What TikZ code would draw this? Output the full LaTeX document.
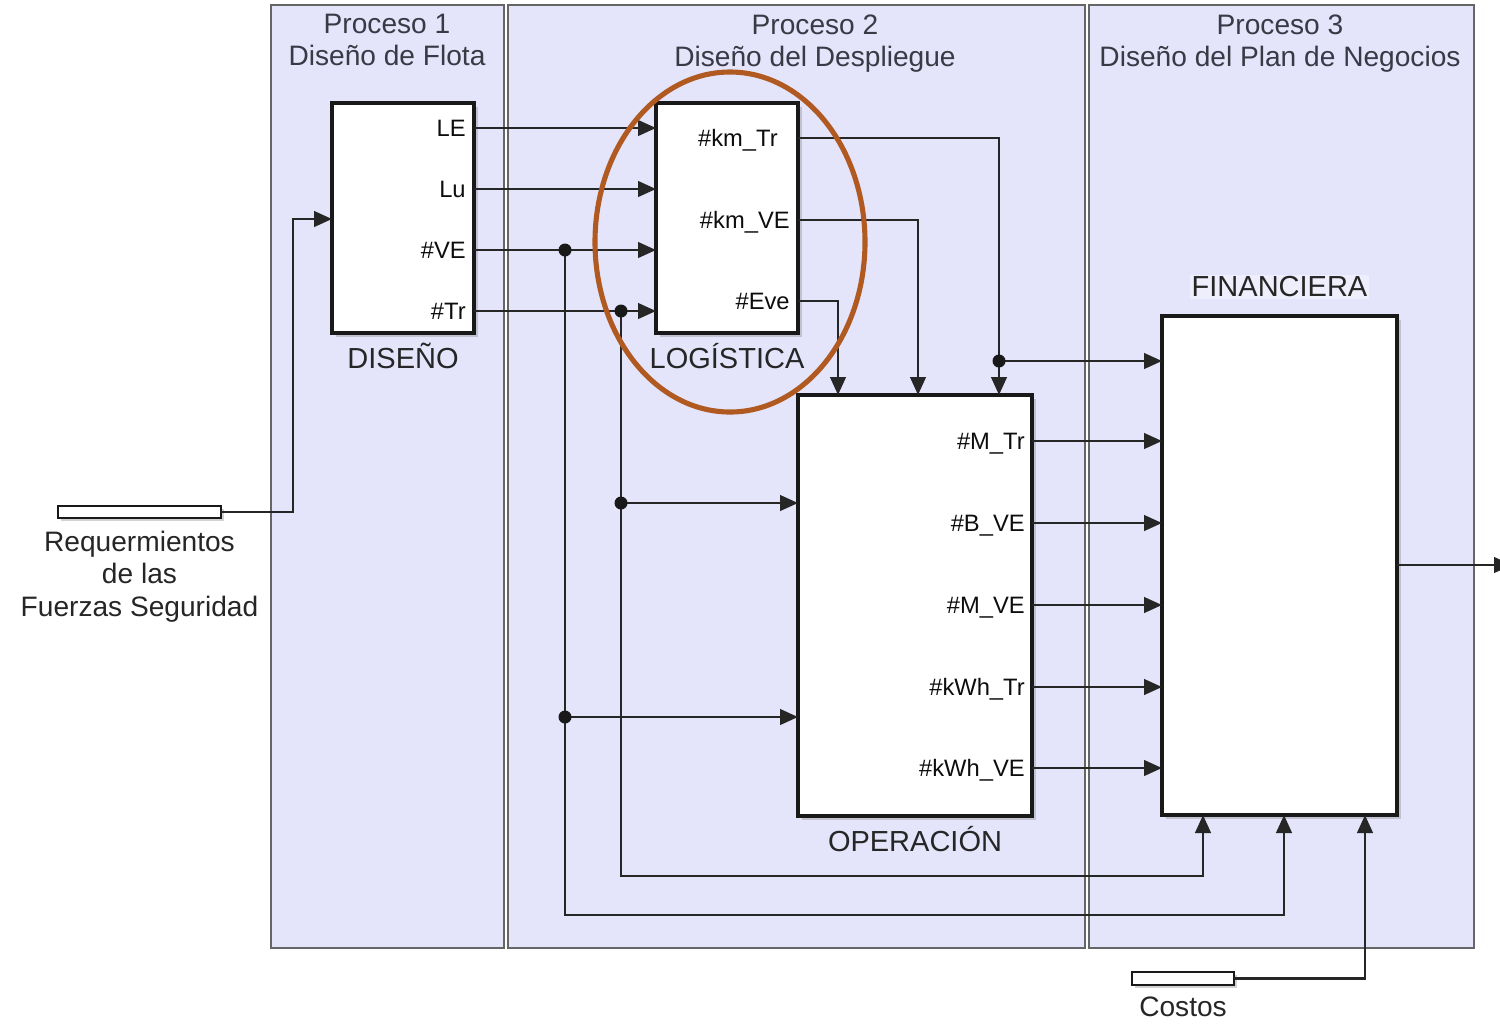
\documentclass[tikz,border=0pt]{standalone}
\usepackage{fontspec}
\setmainfont{Liberation Sans}
\usepackage{tikz}
\usetikzlibrary{positioning, arrows.meta, shadows}
\definecolor{lav}{RGB}{228,228,250}
\definecolor{lavlt}{RGB}{238,238,252}
\definecolor{ringc}{RGB}{176,90,34}
\definecolor{ttl}{RGB}{58,58,70}
\tikzset{
  arr/.style={-{Triangle[length=3.6mm,width=3.1mm]}, line width=1.6pt, draw=black!85},
  panel/.style={fill=lav, draw=black!60, line width=1.6pt, inner sep=0pt, outer sep=0pt},
  blk/.style={fill=white, draw=black!90, line width=1.8pt, inner sep=0pt, outer sep=0pt,
    drop shadow={shadow xshift=0.7mm, shadow yshift=-0.7mm, opacity=0.35}},
  src/.style={fill=white, draw=black!90, line width=1.6pt, inner sep=0pt, outer sep=0pt,
    drop shadow={shadow xshift=0.6mm, shadow yshift=-0.6mm, opacity=0.35}},
  port/.style={font=\fontsize{13.5}{16}\selectfont, inner sep=0pt, text=black!95},
  bname/.style={font=\fontsize{16.5}{19}\selectfont, text=black!85, inner sep=1pt},
  ptitle/.style={font=\fontsize{16}{18.2}\selectfont, text=ttl, align=center},
  ring/.style={draw=ringc, line width=2.9pt}
}
\begin{document}
\begin{tikzpicture}[x=0.2mm, y=-0.2mm]
\fill[white] (0,0) rectangle (1500,1024);
\useasboundingbox (0,0) rectangle (1500,1024);
% ---- process panels ----
\node[panel, minimum width=46.6mm, minimum height=188.6mm] (p1) at (387.5,476.5) {};
\node[panel, minimum width=115.4mm, minimum height=188.6mm] (p2) at (796.5,476.5) {};
\node[panel, minimum width=77mm, minimum height=188.6mm] (p3) at (1281.5,476.5) {};
\node[ptitle] (t1) at (387,40) {Proceso 1\\Diseño de Flota};
\node[ptitle] (t2) at (815,44) {Proceso 2\\Diseño del Despliegue};
\node[ptitle] (t3) at (1280,44) {Proceso 3\\Diseño del Plan de Negocios};
% ---- blocks ----
\node[blk, minimum width=28.4mm, minimum height=46mm] (dis) at (403,218) {};
\node[blk, minimum width=28.4mm, minimum height=46mm] (log) at (727,218) {};
\node[blk, minimum width=46.8mm, minimum height=84.2mm] (ope) at (915,605.5) {};
\node[blk, minimum width=47mm, minimum height=99.8mm] (fin) at (1279.5,565.5) {};
\node[src, minimum width=32.6mm, minimum height=2.4mm] (req) at (139.5,512) {};
\node[src, minimum width=20.4mm, minimum height=2.6mm] (cos) at (1183,978.5) {};
\node[bname, below=1.6mm of dis] (disl) {DISEÑO};
\node[bname, below=1.6mm of log] (logl) {LOGÍSTICA};
\node[bname, below=1.6mm of ope] (opel) {OPERACIÓN};
\node[bname, above=3.4mm of fin, fill=lavlt] (finl) {FINANCIERA};
\node[bname, below=2.2mm of req, align=center, font=\fontsize{16}{18.4}\selectfont] (reql)
  {Requermientos\\de las\\Fuerzas Seguridad};
\node[bname, below=2mm of cos, font=\fontsize{16}{18.4}\selectfont] (cosl) {Costos};
% ---- port labels ----
\foreach \y/\t in {128/LE, 189/Lu, 250/\#VE, 311/\#Tr}{
  \node[port, anchor=base east] at ([xshift=-1.6mm, yshift=-1.7mm]dis.east |- 0,\y) {\t};}
\foreach \y/\x/\t in {138/778/\#km\_Tr, 220/790/\#km\_VE, 301/790/\#Eve}{
  \node[port, anchor=base east] at ([yshift=-1.7mm]\x,\y) {\t};}
\foreach \y/\t in {441/\#M\_Tr, 523/\#B\_VE, 605/\#M\_VE, 687/\#kWh\_Tr, 768/\#kWh\_VE}{
  \node[port, anchor=base east] at ([xshift=-1.4mm, yshift=-1.7mm]ope.east |- 0,\y) {\t};}
% ---- branch points ----
\coordinate (ve) at (565,250);
\coordinate (tr) at (621,311);
\coordinate (ve2) at (565,717);
\coordinate (tr2) at (621,503);
\coordinate (kt) at (999,361);
\coordinate (out) at (1512,565);
% ---- connectors ----
\foreach \y in {128,189,250,311}{
  \draw[arr] (dis.east |- 0,\y) -- (log.west |- 0,\y);}
\draw[arr] (req.east) -| (293,219) -- (dis.west |- 0,219);
\draw[arr] (log.east |- 0,138) -| (ope.north -| kt);
\draw[arr] (log.east |- 0,220) -| (ope.north -| 918,0);
\draw[arr] (log.east |- 0,301) -| (ope.north -| 838,0);
\draw[arr] (kt) -- (kt -| fin.west);
\draw[arr] (tr2) -- (tr2 -| ope.west);
\draw[arr] (ve2) -- (ve2 -| ope.west);
\draw[arr] (tr) -- (621,876) -| (fin.south -| 1203,0);
\draw[arr] (ve) -- (565,915) -| (fin.south -| 1284,0);
\draw[arr] (cos.east) -| (fin.south -| 1365,0);
\foreach \y in {441,523,605,687,768}{
  \draw[arr] (ope.east |- 0,\y) -- (fin.west |- 0,\y);}
\draw[arr] (fin.east |- out) -- (out);
% ---- highlight ----
\draw[ring] (730,242) ellipse [x radius=27mm, y radius=34mm];
\foreach \c in {ve,tr,ve2,tr2,kt}{
  \fill[black!90] (\c) circle (1.3mm);}
\end{tikzpicture}
\end{document}
